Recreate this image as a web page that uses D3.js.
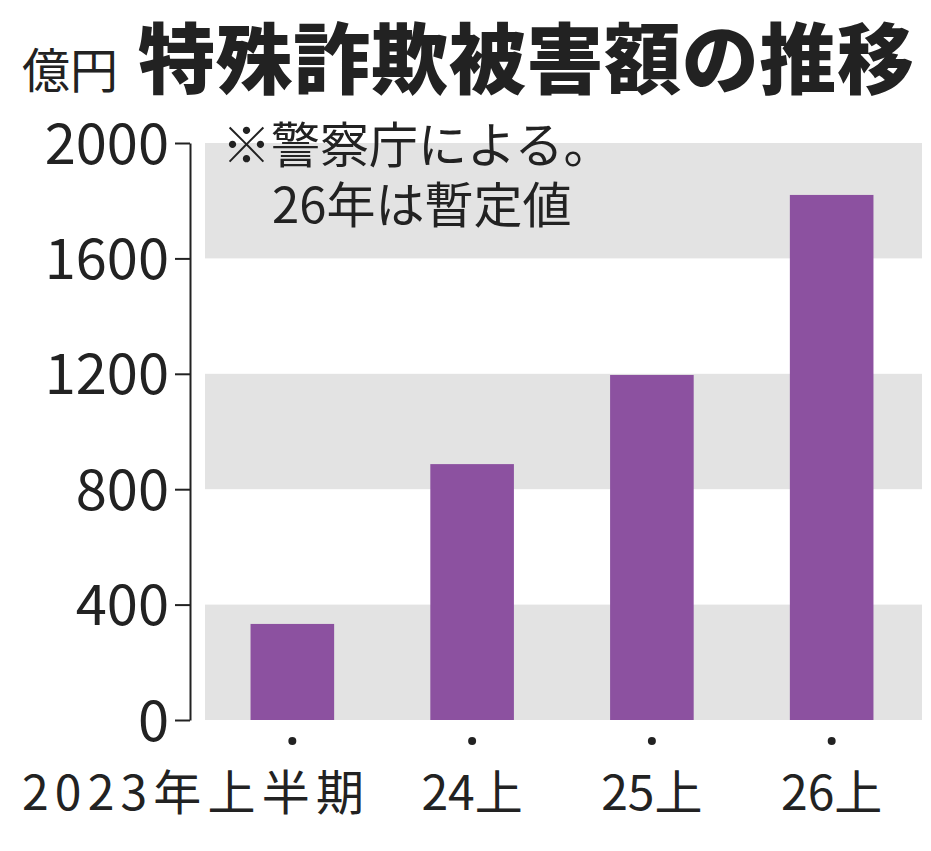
<!DOCTYPE html>
<html><head><meta charset="utf-8">
<script src="https://cdn.jsdelivr.net/npm/d3@7"></script>
<style>body{margin:0;background:#fff}text{font-family:"Noto Sans CJK JP",sans-serif}</style>
</head><body>
<svg id="c" width="931" height="851"></svg>
<script>
const categories = ["2023年上半期", "24上", "25上", "26上"];
const values = [333, 887, 1196, 1820];
const yTicks = [0, 400, 800, 1200, 1600, 2000];
const bands = [[0, 400], [800, 1200], [1600, 2000]];

const svg = d3.select("#c");
const y = d3.scaleLinear().domain([0, 2000]).range([720, 143]);
const x = d3.scaleBand().domain(categories).range([202, 922]).paddingInner(0.535).paddingOuter(0.27);

svg.selectAll("rect.band").data(bands).join("rect")
  .attr("x", 205).attr("width", 717)
  .attr("y", d => y(d[1])).attr("height", d => y(d[0]) - y(d[1]))
  .attr("fill", "#e3e3e3");

svg.selectAll("rect.bar").data(values).join("rect")
  .attr("x", (d, i) => x(categories[i])).attr("width", x.bandwidth())
  .attr("y", d => y(d)).attr("height", d => 720 - y(d))
  .attr("fill", "#8c51a0");

const ax = svg.append("g").attr("transform", "translate(190,0)")
  .call(d3.axisLeft(y).tickValues(yTicks).tickFormat(d3.format("d")).tickSize(15).tickPadding(6).tickSizeOuter(0));
ax.select(".domain").attr("stroke", "#222").attr("stroke-width", 2);
ax.selectAll(".tick line").attr("stroke", "#222").attr("stroke-width", 2);
ax.selectAll(".tick text").attr("font-size", 56).attr("fill", "#222").attr("dy", "0.36em");

svg.selectAll("circle.dot").data(categories).join("circle")
  .attr("cx", d => x(d) + x.bandwidth() / 2).attr("cy", 741).attr("r", 4).attr("fill", "#222");
svg.selectAll("text.cat").data(categories).join("text")
  .attr("x", (d, i) => i === 0 ? 22 : x(d) + x.bandwidth() / 2).attr("y", 810)
  .attr("text-anchor", (d, i) => i === 0 ? "start" : "middle")
  .attr("textLength", (d, i) => i === 0 ? 342 : null)
  .attr("font-size", 48).attr("fill", "#222")
  .text(d => d);

svg.append("text").attr("x", 22).attr("y", 88).attr("font-size", 48).attr("fill", "#222").text("億円");
svg.append("text").attr("x", 138).attr("y", 88).attr("font-size", 77).attr("font-weight", 900)
  .attr("fill", "#222").attr("textLength", 776).text("特殊詐欺被害額の推移");
svg.append("text").attr("x", 222).attr("y", 163).attr("font-size", 49).attr("fill", "#222").text("※警察庁による。");
svg.append("text").attr("x", 272).attr("y", 223).attr("font-size", 49).attr("fill", "#222").text("26年は暫定値");
</script>
</body></html>
